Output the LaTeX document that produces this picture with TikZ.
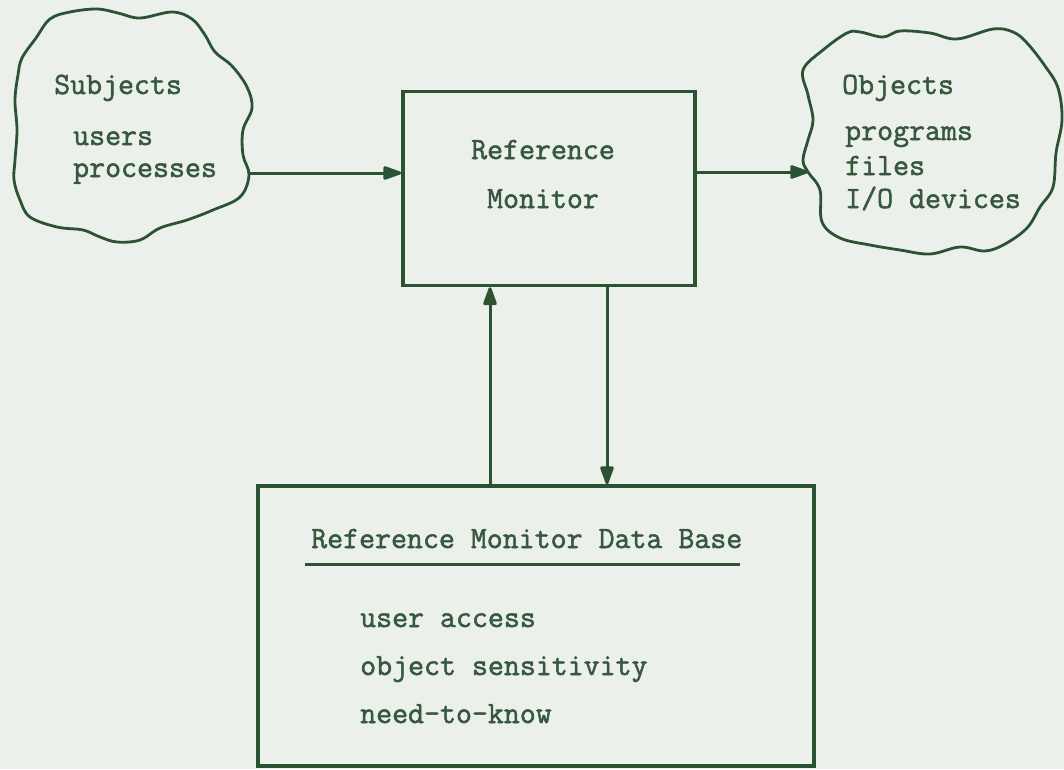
\documentclass[tikz,border=0pt]{standalone}
\usepackage{fontspec}
\usetikzlibrary{arrows.meta}
\newfontfamily\tw{Latin Modern Mono}[FakeBold=1.6]
\definecolor{ink}{RGB}{44,82,52}
\definecolor{txt}{RGB}{54,88,62}
\definecolor{paper}{RGB}{236,240,234}
\tikzset{
  boxnode/.style={draw=ink, line width=3.6pt, inner sep=0pt},
  cloudline/.style={draw=ink, line width=2.8pt, line join=round},
  lbl/.style={anchor=base west, inner sep=0pt, text=txt, font=\tw\fontsize{31}{34}\selectfont},
  clbl/.style={lbl, anchor=base},
  arr/.style={draw=ink, line width=3pt, -{Triangle[length=21pt,width=14pt,round]}}
}
\begin{document}
\begin{tikzpicture}[x=1pt,y=-1pt]
\useasboundingbox[fill=paper] (0,0) rectangle (1064,769);
% clouds
\draw[cloudline] plot[smooth cycle, tension=0.6] coordinates {
 (22,58) (36,38) (50,19) (70,12) (97,9) (118,13) (140,18) (172,12) (192,19)
 (205,35) (215,52) (232,66) (247,87) (252,108) (243,130) (243,155) (249,175)
 (240,197) (213,210) (187,220) (160,228) (140,240) (117,242) (100,237)
 (83,230) (57,227) (30,217) (20,200) (14,180) (15,160) (17,130) (15,100) (18,75)};
\draw[cloudline] plot[smooth cycle, tension=0.6] coordinates {
 (803,70) (823,50) (847,33) (860,32) (883,37) (900,31) (930,33) (957,39)
 (993,29) (1013,32) (1027,43) (1045,66) (1058,88) (1062,120) (1056,153)
 (1053,187) (1040,207) (1027,228) (1005,244) (985,251) (960,247) (930,254)
 (900,250) (870,245) (840,238) (822,222) (820,190) (808,172) (803,160)
 (808,140) (813,120) (808,95)};
% boxes
\node[boxnode, minimum width=292pt, minimum height=194pt] (rm) at (549,188.5) {};
\node[boxnode, minimum width=556pt, minimum height=280pt] (db) at (536,626) {};
% texts
\node[lbl] (s1) at (54,94) {Subjects};
\node[lbl] (s2) at (73,145) {users};
\node[lbl] (s3) at (73,177) {processes};
\node[lbl] (o1) at (842,94) {Objects};
\node[lbl] (o2) at (845,140) {programs};
\node[lbl] (o3) at (845,175) {files};
\node[lbl] (o4) at (845,208) {I/O devices};
\node[clbl] (r1) at (543,159) {Reference};
\node[clbl] (r2) at (543,208) {Monitor};
\node[lbl] (d0) at (311,548) {Reference Monitor Data Base};
\node[lbl] (d1) at (360,627) {user access};
\node[lbl] (d2) at (360,675) {object sensitivity};
\node[lbl] (d3) at (360,723) {need-to-know};
\coordinate (ul1) at (305,564);
\coordinate (ul2) at (740,564);
\draw[draw=ink, line width=3pt] (ul1) -- (ul2);
% connectors
\coordinate (lc) at (248,173);
\coordinate (rc) at (808,172);
\coordinate (upx) at (490,0);
\coordinate (dnx) at (607,0);
\draw[arr] (lc) -- (rm.west |- lc);
\draw[arr] (rm.east |- rc) -- (rc);
\draw[arr] (db.north -| upx) -- (rm.south -| upx);
\draw[arr] (rm.south -| dnx) -- (db.north -| dnx);
\end{tikzpicture}
\end{document}
